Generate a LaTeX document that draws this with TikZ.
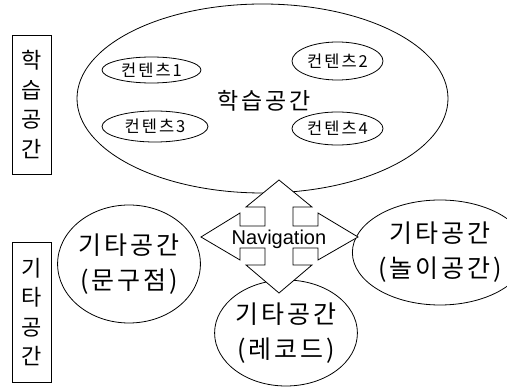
\documentclass[tikz,border=0pt]{standalone}
\usepackage{fontspec}
\setmainfont{Noto Sans CJK KR}[LetterSpace=12]
\newfontfamily\latinsans{Liberation Sans}
\usetikzlibrary{shapes.geometric}
\tikzset{
  space/.style={draw, ellipse, inner sep=0pt, line width=0.8pt, align=center},
  content/.style={space, font=\fontsize{16.5}{20}\selectfont},
  other/.style={space, font=\fontsize{25}{35}\selectfont},
  sidebox/.style={draw, rectangle, line width=0.8pt, inner sep=0pt, minimum width=39pt, align=center, font=\fontsize{22}{29.5}\selectfont},
  navarrow/.style={draw, fill=white, line width=0.8pt, line join=miter}
}
\begin{document}
\begin{tikzpicture}[x=1pt, y=-1pt]
\useasboundingbox (0,0) rectangle (507,387);
% side labels
\node[sidebox, minimum height=139pt] (lbox) at (31.5,104.5) {학\\습\\공\\간};
\node[sidebox, minimum height=140pt] (obox) at (31.5,312) {기\\타\\공\\간};
% learning space
\node[space, minimum width=371pt, minimum height=189pt] (learn) at (262.5,98.5) {};
\node[font=\fontsize{23}{28}\selectfont] (learntext) at (264,101) {학습공간};
\node[content, minimum width=99pt, minimum height=26pt] (c1) at (151.5,70) {컨텐츠1};
\node[content, minimum width=91pt, minimum height=38pt] (c2) at (337.5,61) {컨텐츠2};
\node[content, minimum width=106pt, minimum height=31pt] (c3) at (155,126.5) {컨텐츠3};
\node[content, minimum width=91pt, minimum height=33pt] (c4) at (337.5,128.5) {컨텐츠4};
% other spaces
\node[other, minimum width=132pt, minimum height=118pt] (shop) at (129,264) {기타공간\\(문구점)};
\node[other, minimum width=126pt, minimum height=105pt] (play) at (440,252.5) {기타공간\\(놀이공간)};
\node[other, minimum width=132pt, minimum height=106pt] (record) at (286,333) {기타공간\\(레코드)};
% navigation arrow
\draw[navarrow] (279,180) -- (312,207) -- (293,207) -- (293,226) -- (318,226) -- (318,213)
  -- (358,237) -- (318,260) -- (318,248) -- (293,248) -- (293,265) -- (312,265)
  -- (279,293) -- (246,265) -- (265,265) -- (265,248) -- (240,248) -- (240,260)
  -- (201,237) -- (240,213) -- (240,226) -- (265,226) -- (265,207) -- (246,207) -- cycle;
\node[font=\latinsans\fontsize{20}{22}\selectfont, inner sep=0pt] (nav) at (279,239) {Navigation};
\end{tikzpicture}
\end{document}
